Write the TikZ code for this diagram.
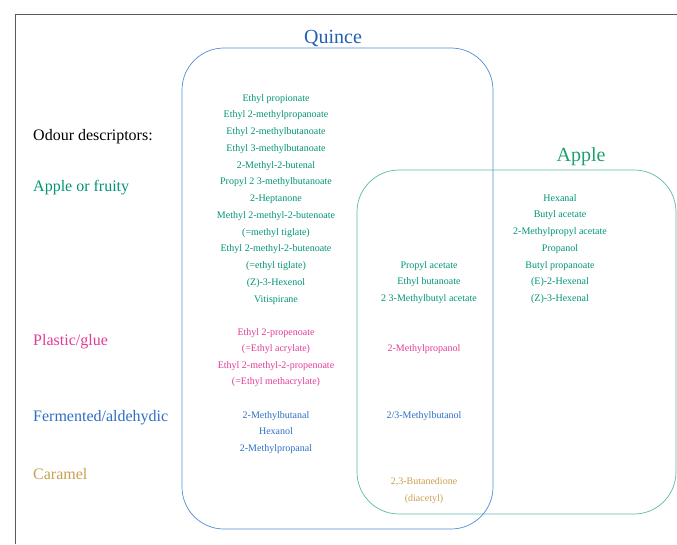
\documentclass[tikz,border=0pt]{standalone}
\usepackage{fontspec}
\setmainfont{Liberation Serif}
\definecolor{qblue}{RGB}{35,95,180}
\definecolor{fteal}{RGB}{0,148,118}
\definecolor{ateal}{RGB}{30,160,110}
\definecolor{pglue}{RGB}{225,60,150}
\definecolor{fblue}{RGB}{45,110,195}
\definecolor{caram}{RGB}{200,160,80}
\definecolor{aline}{RGB}{90,185,170}
\definecolor{qline}{RGB}{80,140,210}
\definecolor{frame}{RGB}{90,90,90}
\begin{document}
\begin{tikzpicture}[x=1pt,y=-1pt,
  cmp/.style={font=\fontsize{10}{12}\selectfont, anchor=base, inner sep=0pt},
  lab/.style={font=\fontsize{16}{19}\selectfont, anchor=base west, inner sep=0pt},
  ttl/.style={font=\fontsize{20}{24}\selectfont, anchor=base, inner sep=0pt},
  setbox/.style={draw, line width=0.7pt, rounded corners=42pt, inner sep=0pt}]
\useasboundingbox (0,0) rectangle (677,544);
% page frame
\coordinate (ftr) at (677,14);
\coordinate (ftl) at (15,14);
\coordinate (fbl) at (15,544);
\draw[frame, line width=0.8pt] (ftr) -- (ftl) -- (fbl);
% set boxes
\node[setbox, aline, minimum width=319pt, minimum height=344pt] (applebox) at (516.5,342) {};
\node[setbox, qline, minimum width=311pt, minimum height=481pt] (quincebox) at (337.5,288.5) {};
% titles
\node[ttl, qblue] (quince) at (333,43) {Quince};
\node[ttl, ateal] (apple) at (581,161) {Apple};
% descriptor labels
\node[lab, black] (odour) at (33,140.5) {Odour descriptors:};
\node[lab, fteal] (fruity) at (33,191.5) {Apple or fruity};
\node[lab, pglue] (plastic) at (33,345) {Plastic/glue};
\node[lab, fblue] (ferm) at (33,421.5) {Fermented/aldehydic};
\node[lab, caram] (caramel) at (33,479) {Caramel};
% Quince only
\foreach \t [count=\i] in {Ethyl propionate, Ethyl 2-methylpropanoate, Ethyl 2-methylbutanoate,
  Ethyl 3-methylbutanoate, 2-Methyl-2-butenal, Propyl 2 3-methylbutanoate, 2-Heptanone,
  Methyl 2-methyl-2-butenoate, (=methyl tiglate), Ethyl 2-methyl-2-butenoate,
  (=ethyl tiglate), (Z)-3-Hexenol, Vitispirane}
  \node[cmp, fteal] (q\i) at (276,{101+16.75*(\i-1)}) {\t};
\foreach \t [count=\i] in {Ethyl 2-propenoate, (=Ethyl acrylate), Ethyl 2-methyl-2-propenoate, (=Ethyl methacrylate)}
  \node[cmp, pglue] (qp\i) at (276,{335+16.5*(\i-1)}) {\t};
\foreach \t [count=\i] in {2-Methylbutanal, Hexanol, 2-Methylpropanal}
  \node[cmp, fblue] (qb\i) at (276,{418+16.5*(\i-1)}) {\t};
% shared
\foreach \t [count=\i] in {Propyl acetate, Ethyl butanoate, 2 3-Methylbutyl acetate}
  \node[cmp, fteal] (m\i) at (429,{268+16.75*(\i-1)}) {\t};
\node[cmp, pglue] (mp1) at (424,351) {2-Methylpropanol};
\node[cmp, fblue] (mb1) at (424,418) {2/3-Methylbutanol};
\node[cmp, caram] (mc1) at (424,484.5) {2,3-Butanedione};
\node[cmp, caram] (mc2) at (424,501) {(diacetyl)};
% Apple only
\foreach \t [count=\i] in {Hexanal, Butyl acetate, 2-Methylpropyl acetate, Propanol,
  Butyl propanoate, (E)-2-Hexenal, (Z)-3-Hexenal}
  \node[cmp, fteal] (a\i) at (560,{201+16.75*(\i-1)}) {\t};
\end{tikzpicture}
\end{document}
